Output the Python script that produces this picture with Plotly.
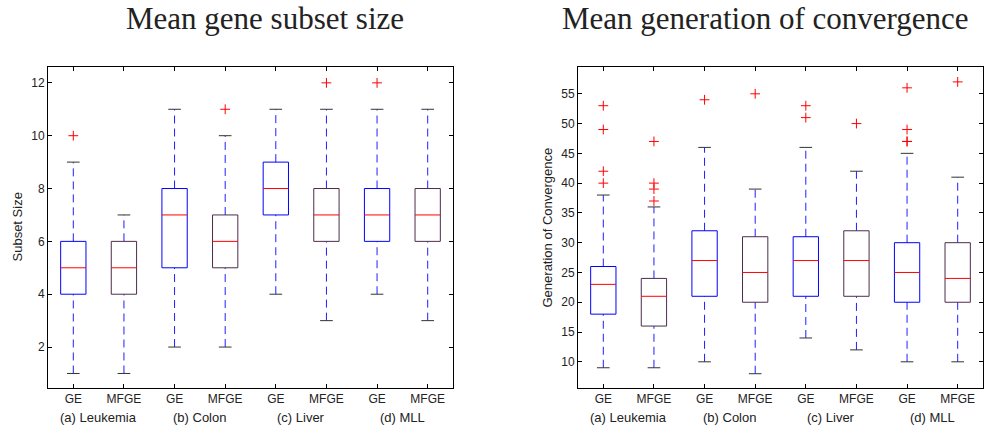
import plotly.graph_objects as go

# ---------------- data ----------------
datasets = ["(a) Leukemia", "(b) Colon", "(c) Liver", "(d) MLL"]
methods = ["GE", "MFGE"]

subset_q1 = [4, 4, 5, 5, 7, 6, 6, 6]
subset_med = [5, 5, 7, 6, 8, 7, 7, 7]
subset_q3 = [6, 6, 8, 7, 9, 8, 8, 8]
subset_lo = [1, 1, 2, 2, 4, 3, 4, 3]
subset_hi = [9, 7, 11, 10, 11, 11, 11, 11]
subset_out = [[10], [], [], [11], [], [12], [12], []]

gen_q1 = [18, 16, 21, 20, 21, 21, 20, 20]
gen_med = [23, 21, 27, 25, 27, 27, 25, 24]
gen_q3 = [26, 24, 32, 31, 31, 32, 30, 30]
gen_lo = [9, 9, 10, 8, 14, 12, 10, 10]
gen_hi = [38, 36, 46, 39, 46, 42, 45, 41]
gen_out = [[40, 42, 49, 53], [37, 39, 40, 47], [54], [55], [51, 53], [50], [47, 47, 49, 56], [57]]

titles = ["Mean gene subset size", "Mean generation of convergence"]
ylabels = ["Subset Size", "Generation of Convergence"]

# ---------------- style ----------------
W, H = 984, 428
BOX_HALF = 0.25
CAP_HALF = 0.125
GE_COLOR = "#0000ff"
MFGE_COLOR = "#4e2c4c"
WHISK_COLOR = "#1f1fff"
CAP_COLOR = "#333333"
MED_COLOR = "#ff0000"
TXT = "#222222"
FONT = "Liberation Sans"

positions = list(range(1, len(datasets) * len(methods) + 1))
tick_text = [m for _ in datasets for m in methods]

fig = go.Figure()


def add_panel(q1, med, q3, lo, hi, outs, xa, ya):
    wx, wy = [], []
    cx, cy = [], []
    for p, a, b, l, h in zip(positions, q1, q3, lo, hi):
        wx += [p, p, None, p, p, None]
        wy += [b, h, None, l, a, None]
        cx += [p - CAP_HALF, p + CAP_HALF, None, p - CAP_HALF, p + CAP_HALF, None]
        cy += [h, h, None, l, l, None]
    fig.add_trace(go.Scatter(x=wx, y=wy, mode="lines", xaxis=xa, yaxis=ya,
                             line=dict(color=WHISK_COLOR, width=1, dash="8px,5px"),
                             hoverinfo="skip"))
    fig.add_trace(go.Scatter(x=cx, y=cy, mode="lines", xaxis=xa, yaxis=ya,
                             line=dict(color=CAP_COLOR, width=1), hoverinfo="skip"))
    for k, color in enumerate([GE_COLOR, MFGE_COLOR]):
        bx, by = [], []
        for i, p in enumerate(positions):
            if i % 2 != k:
                continue
            bx += [p - BOX_HALF, p + BOX_HALF, p + BOX_HALF, p - BOX_HALF, p - BOX_HALF, None]
            by += [q1[i], q1[i], q3[i], q3[i], q1[i], None]
        fig.add_trace(go.Scatter(x=bx, y=by, mode="lines", xaxis=xa, yaxis=ya,
                                 line=dict(color=color, width=1), hoverinfo="skip"))
    mx, my = [], []
    for p, m in zip(positions, med):
        mx += [p - BOX_HALF, p + BOX_HALF, None]
        my += [m, m, None]
    fig.add_trace(go.Scatter(x=mx, y=my, mode="lines", xaxis=xa, yaxis=ya,
                             line=dict(color=MED_COLOR, width=1), hoverinfo="skip"))
    ox, oy = [], []
    for p, o in zip(positions, outs):
        for v in o:
            ox.append(p)
            oy.append(v)
    fig.add_trace(go.Scatter(x=ox, y=oy, mode="markers", xaxis=xa, yaxis=ya,
                             marker=dict(symbol="cross-thin", size=7,
                                         line=dict(color=MED_COLOR, width=1)),
                             hoverinfo="skip"))


add_panel(subset_q1, subset_med, subset_q3, subset_lo, subset_hi, subset_out, "x", "y")
add_panel(gen_q1, gen_med, gen_q3, gen_lo, gen_hi, gen_out, "x2", "y2")

ydom = [(H - 388) / H, (H - 67) / H]
axis_common = dict(showline=True, mirror="ticks", linecolor="black", linewidth=1,
                   ticks="inside", ticklen=4, tickcolor="black", showgrid=False,
                   zeroline=False, tickfont=dict(family=FONT, size=12, color=TXT))

fig.update_layout(
    width=W, height=H,
    margin=dict(l=0, r=0, t=0, b=0),
    paper_bgcolor="white", plot_bgcolor="white",
    showlegend=False,
    xaxis=dict(domain=[48 / W, 453 / W], range=[0.5, 8.5], tickvals=positions,
               ticktext=tick_text, anchor="y", **axis_common),
    yaxis=dict(domain=ydom, range=[0.45, 12.6], tickvals=[2, 4, 6, 8, 10, 12],
               anchor="x", **axis_common),
    xaxis2=dict(domain=[578 / W, 983 / W], range=[0.5, 8.5], tickvals=positions,
                ticktext=tick_text, anchor="y2", **axis_common),
    yaxis2=dict(domain=ydom, range=[5.6, 59.5], tickvals=list(range(10, 56, 5)),
                anchor="x2", **axis_common),
)

annotations = []
for xa in ["x", "x2"]:
    for j, name in enumerate(datasets):
        xc = (positions[2 * j] + positions[2 * j + 1]) / 2
        annotations.append(dict(text=name, x=xc, xref=xa, y=(H - 417) / H, yref="paper",
                                xanchor="center", yanchor="middle", showarrow=False,
                                font=dict(family=FONT, size=13, color=TXT)))
for t, xc in zip(titles, [265 / W, 765 / W]):
    annotations.append(dict(text=t, x=xc, xref="paper", y=(H - 19) / H, yref="paper",
                            xanchor="center", yanchor="middle", showarrow=False,
                            font=dict(family="Liberation Serif", size=31, color=TXT)))
for t, xc in zip(ylabels, [17 / W, 547 / W]):
    annotations.append(dict(text=t, x=xc, xref="paper", y=(H - 227.5) / H, yref="paper",
                            xanchor="center", yanchor="middle", showarrow=False,
                            textangle=-90, font=dict(family=FONT, size=13, color=TXT)))
fig.update_layout(annotations=annotations)

fig.write_html("out.html")
